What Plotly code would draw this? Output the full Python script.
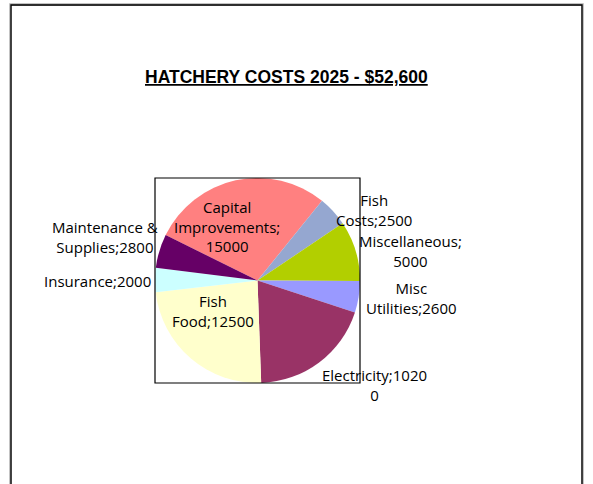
import plotly.graph_objects as go

W, H = 593, 484

categories = ["Capital Improvements", "Fish Costs", "Miscellaneous", "Misc Utilities",
              "Electricity", "Fish Food", "Insurance", "Maintenance & Supplies"]
values = [15000, 2500, 5000, 2600, 10200, 12500, 2000, 2800]
colors = ["#FF8080", "#95A7D0", "#B2CF00", "#9999FF", "#993366", "#FFFFCC", "#CCFFFF", "#660066"]

title_text = "HATCHERY COSTS 2025 - $52,600"

# wrapped label text (as Excel wraps it)
def label_text(cat, v):
    s = f"{cat};{v}"
    wraps = {
        "Capital Improvements": "Capital<br>Improvements;<br>{v}",
        "Fish Costs": "Fish<br>Costs;{v}",
        "Miscellaneous": "Miscellaneous;<br>{v}",
        "Misc Utilities": "Misc<br>Utilities;{v}",
        "Fish Food": "Fish<br>Food;{v}",
        "Maintenance & Supplies": "Maintenance &<br>Supplies;{v}",
    }
    if cat in wraps:
        return wraps[cat].format(v=v)
    if cat == "Electricity":
        return s[:-1] + "<br>" + s[-1:]
    return s

# label anchor positions in pixels (layout only)
label_pos = [(227, 226), (374, 210), (410, 251), (411, 298),
             (374, 385), (213, 311), (98, 281), (105, 237)]

def px(x):
    return x / W

def py(y):
    return 1 - y / H

# plot area box (pixels)
bx0, by0, bx1, by1 = 155, 178, 360, 383

fig = go.Figure(go.Pie(
    labels=categories,
    values=values,
    sort=False,
    direction="clockwise",
    rotation=39 - 360 * values[0] / sum(values),
    marker=dict(colors=colors, line=dict(width=0)),
    textinfo="none",
    showlegend=False,
    domain=dict(x=[px(bx0), px(bx1)], y=[py(by1), py(by0)]),
))

annotations = []
for cat, v, (x, y) in zip(categories, values, label_pos):
    annotations.append(dict(
        text=label_text(cat, v), x=px(x), y=py(y), xref="paper", yref="paper",
        xanchor="center", yanchor="middle", align="center", showarrow=False,
        font=dict(family="Open Sans", size=15, color="#000000"),
    ))
annotations.append(dict(
    text=f"<b><u>{title_text}</u></b>", x=px(286.5), y=py(77), xref="paper", yref="paper",
    xanchor="center", yanchor="middle", showarrow=False,
    font=dict(family="Liberation Sans", size=17.5, color="#000000"),
))

shapes = [
    dict(type="rect", xref="paper", yref="paper", x0=px(10.5), x1=px(582.5), y0=-0.1, y1=py(4.5),
         line=dict(color="#b0b0b0", width=2.5), layer="below"),
    dict(type="rect", xref="paper", yref="paper", x0=px(11), x1=px(582), y0=-0.1, y1=py(5),
         line=dict(color="#000000", width=1.3), layer="below"),
    dict(type="rect", xref="paper", yref="paper", x0=px(bx0), x1=px(bx1), y0=py(by1), y1=py(by0),
         line=dict(color="#000000", width=1.2), layer="above"),
]

fig.update_layout(
    width=W, height=H,
    margin=dict(l=0, r=0, t=0, b=0),
    paper_bgcolor="white", plot_bgcolor="white",
    annotations=annotations, shapes=shapes,
)

fig.write_html(
    "out.html",
    config={"displayModeBar": False},
    post_script="document.body.style.margin='0';document.body.style.overflow='hidden';",
)
